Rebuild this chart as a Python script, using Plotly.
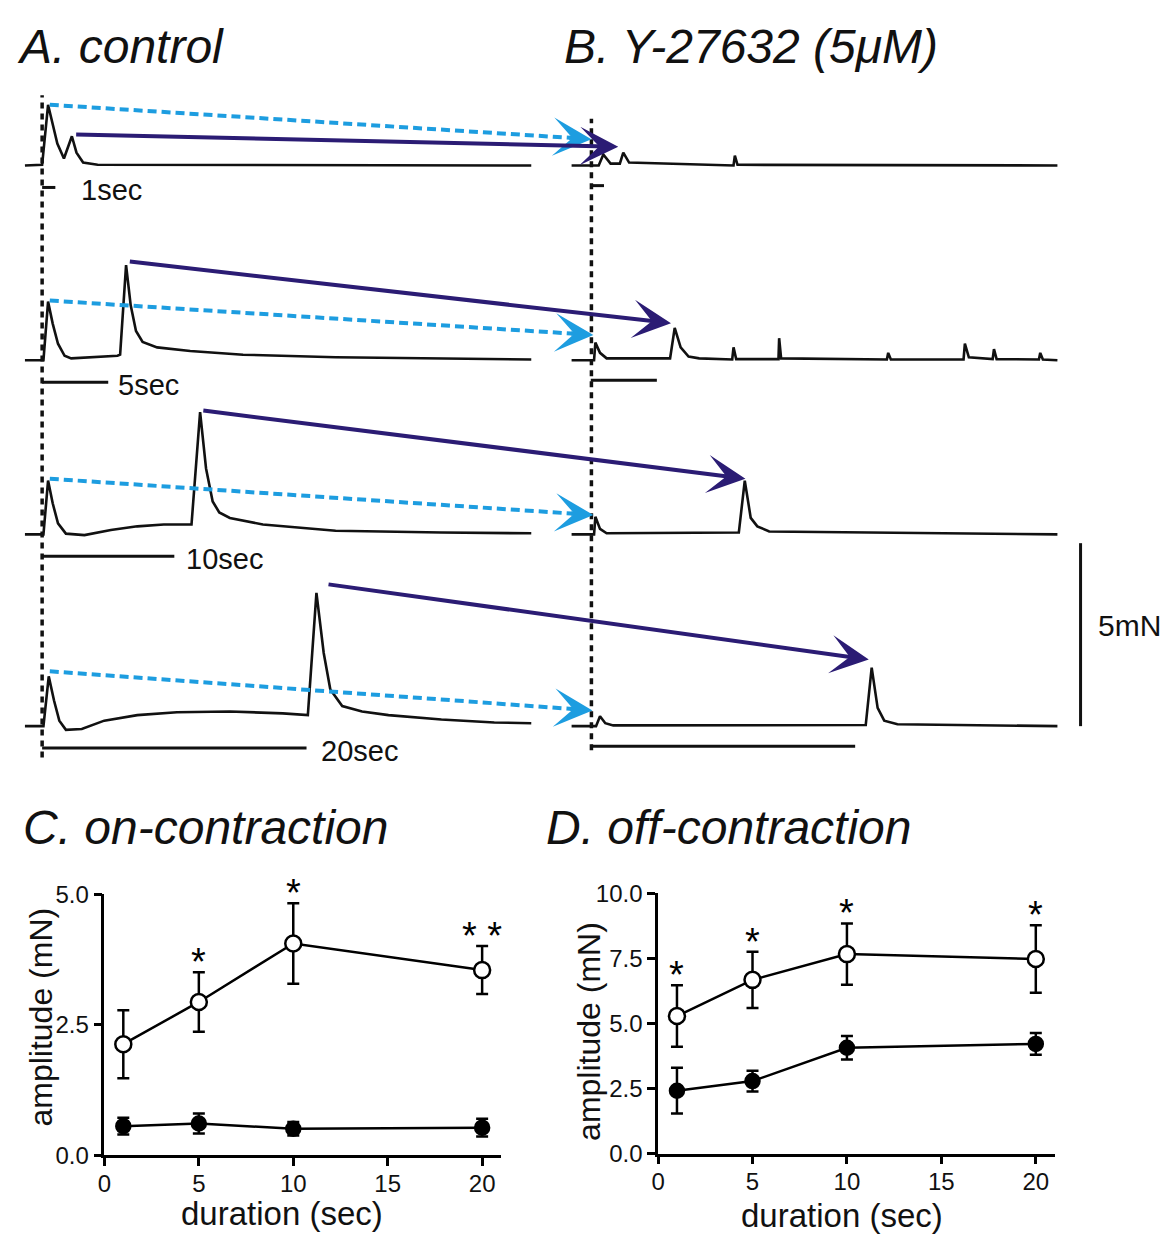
import plotly.graph_objects as go

FIG_W, FIG_H = 1169, 1243
FONT = "Liberation Sans, Arial, Helvetica, sans-serif"
NAVY = "#2B1C74"
SKY = "#1D9DE0"

# ---------------------------------------------------------------------------
# Force recordings: time (s) from stimulus onset, force (mN) above baseline
# ---------------------------------------------------------------------------
ctrl_1s_t = [-1.5, -0.2, 0.25, 0.6, 0.95, 1.45, 2.05, 2.4, 2.9, 4.0, 36.8]
ctrl_1s_f = [0.0, 0.02, 1.66, 1.15, 0.6, 0.19, 0.8, 0.35, 0.08, 0.02, 0.0]
y27_1s_t = [-1.65, 0.4, 0.75, 1.3, 2.0, 2.26, 2.7, 10.6, 10.7, 10.9, 35.1]
y27_1s_f = [0.0, 0.0, 0.3, 0.05, 0.05, 0.35, 0.08, 0.0, 0.27, 0.02, 0.0]

ctrl_5s_t = [-1.5, -0.1, 0.25, 0.6, 1.0, 1.5, 2.0, 4.0, 5.5, 5.7, 6.15, 6.5,
             6.9, 7.4, 8.5, 11.0, 15.0, 22.0, 30.0, 36.8]
ctrl_5s_f = [0.0, 0.0, 1.6, 1.0, 0.45, 0.12, 0.05, 0.08, 0.12, 0.15, 2.6, 1.5,
             0.8, 0.5, 0.35, 0.25, 0.15, 0.08, 0.04, 0.02]
y27_5s_t = [-1.65, 0.05, 0.15, 0.5, 1.0, 5.8, 6.15, 6.6, 7.2, 8.0, 10.5, 10.6,
            10.8, 14.0, 14.05, 14.2, 22.2, 22.3, 22.5, 28.0, 28.1, 28.4, 30.2,
            30.3, 30.5, 33.7, 33.8, 34.0, 35.1]
y27_5s_f = [0.0, 0.0, 0.48, 0.2, 0.05, 0.05, 0.88, 0.35, 0.1, 0.05, 0.02, 0.35,
            0.03, 0.03, 0.6, 0.05, 0.02, 0.2, 0.02, 0.02, 0.45, 0.08, 0.03,
            0.3, 0.03, 0.02, 0.2, 0.02, 0.0]

ctrl_10s_t = [-1.5, -0.1, 0.25, 0.6, 1.0, 1.6, 3.0, 5.0, 7.0, 9.0, 11.1, 11.75,
              12.2, 12.7, 13.2, 14.0, 16.5, 22.0, 30.0, 36.8]
ctrl_10s_f = [0.0, 0.0, 1.47, 0.85, 0.3, 0.02, -0.02, 0.12, 0.22, 0.27, 0.27,
              3.34, 1.8, 0.9, 0.6, 0.45, 0.27, 0.1, 0.05, 0.03]
y27_10s_t = [-1.65, 0.05, 0.15, 0.5, 1.0, 11.0, 11.45, 11.9, 12.4, 13.3, 35.1]
y27_10s_f = [0.0, 0.0, 0.48, 0.15, 0.03, 0.05, 1.47, 0.45, 0.22, 0.08, 0.0]

ctrl_20s_t = [-1.5, -0.1, 0.3, 0.7, 1.1, 1.6, 2.8, 4.5, 7.0, 10.0, 14.0, 18.0,
              19.9, 20.55, 21.1, 21.6, 22.5, 24.0, 26.0, 30.0, 34.0, 36.8]
ctrl_20s_f = [0.0, 0.0, 1.36, 0.7, 0.15, -0.1, -0.08, 0.15, 0.3, 0.38, 0.4,
              0.35, 0.3, 3.64, 2.0, 1.0, 0.55, 0.4, 0.3, 0.18, 0.1, 0.08]
y27_20s_t = [-1.65, 0.2, 0.5, 0.9, 1.5, 20.6, 21.05, 21.5, 22.0, 23.0, 35.1]
y27_20s_f = [0.0, 0.0, 0.27, 0.08, 0.02, 0.03, 1.6, 0.5, 0.15, 0.05, 0.0]

stim_durations = [1, 5, 10, 20]
stim_labels = ["1sec", "5sec", "10sec", "20sec"]

# arrows linking control contractions to the Y-27632 ones (s, mN per row)
on_arrow_ctrl_t = [0.38, 0.38, 0.38, 0.38]
on_arrow_ctrl_f = [1.66, 1.63, 1.52, 1.50]
on_arrow_y27_t = [-0.15, 0.0, 0.0, -0.07]
on_arrow_y27_f = [0.72, 0.69, 0.53, 0.43]
off_arrow_ctrl_t = [2.26, 6.32, 11.88, 21.35]
off_arrow_ctrl_f = [0.85, 2.70, 3.39, 3.88]
off_arrow_y27_t = [1.88, 5.87, 11.5, 20.83]
off_arrow_y27_f = [0.51, 1.01, 1.52, 1.82]

force_scale_mN = 5

# ---------------------------------------------------------------------------
# Summary data: amplitude (mN) vs stimulus duration (s), mean and SEM
# ---------------------------------------------------------------------------
durations = [1, 5, 10, 20]
on_ctrl_mean = [2.13, 2.94, 4.06, 3.55]
on_ctrl_sem = [0.65, 0.57, 0.77, 0.46]
on_y27_mean = [0.56, 0.61, 0.51, 0.53]
on_y27_sem = [0.16, 0.19, 0.13, 0.17]
on_stars = ["", "*", "*", "* *"]

off_ctrl_mean = [5.29, 6.68, 7.67, 7.48]
off_ctrl_sem = [1.18, 1.08, 1.18, 1.30]
off_y27_mean = [2.42, 2.79, 4.07, 4.22]
off_y27_sem = [0.88, 0.40, 0.45, 0.42]
off_stars = ["*", "*", "*", "*"]

# ---------------------------------------------------------------------------
# Layout of the stacked recordings on one shared time / force axis
# ---------------------------------------------------------------------------
ROW_BASE = [16.98, 11.66, 6.90, 1.66]     # mN position of each row baseline
Y27_SHIFT = 41.5                          # s offset of panel B on time axis
TOP_X_RANGE = [-2.857, 85.04]
TOP_Y_RANGE = [0.0, 21.12]
TOP_DOMAIN = [0.3644, 1.0]
BAR_DROP = 0.6                            # time bar distance below baseline
MARK_T = -0.2                             # dotted stimulus-onset line
FORCE_BAR_T = 78.35
LABEL_GAP_PX = [24, 8, 10, 12]
Y27_TIME_BAR = [True, True, False, True]

ctrl_t = [ctrl_1s_t, ctrl_5s_t, ctrl_10s_t, ctrl_20s_t]
ctrl_f = [ctrl_1s_f, ctrl_5s_f, ctrl_10s_f, ctrl_20s_f]
y27_t = [y27_1s_t, y27_5s_t, y27_10s_t, y27_20s_t]
y27_f = [y27_1s_f, y27_5s_f, y27_10s_f, y27_20s_f]

fig = go.Figure()
shapes = []
annotations = []

trace_line = dict(color="#111111", width=2.6)
for r in range(4):
    base = ROW_BASE[r]
    fig.add_trace(go.Scatter(
        x=ctrl_t[r], y=[base + v for v in ctrl_f[r]], mode="lines",
        line=trace_line, xaxis="x", yaxis="y", showlegend=False,
        hoverinfo="skip"))
    fig.add_trace(go.Scatter(
        x=[Y27_SHIFT + v for v in y27_t[r]], y=[base + v for v in y27_f[r]],
        mode="lines", line=trace_line, xaxis="x", yaxis="y",
        showlegend=False, hoverinfo="skip"))

    # stimulus time bars
    bar_y = base - BAR_DROP
    dur = stim_durations[r]
    shapes.append(dict(type="line", xref="x", yref="y", x0=MARK_T,
                       x1=MARK_T + dur, y0=bar_y, y1=bar_y,
                       line=dict(color="#111111", width=3)))
    annotations.append(dict(xref="x", yref="y", x=MARK_T + dur, y=bar_y,
                            text=stim_labels[r], showarrow=False,
                            xanchor="left", yanchor="middle",
                            xshift=LABEL_GAP_PX[r], yshift=-3,
                            font=dict(family=FONT, size=29, color="#111111")))
    if Y27_TIME_BAR[r]:
        shapes.append(dict(type="line", xref="x", yref="y",
                           x0=Y27_SHIFT + MARK_T, x1=Y27_SHIFT + MARK_T + dur,
                           y0=bar_y + 0.05, y1=bar_y + 0.05,
                           line=dict(color="#111111", width=3)))

    # on-contraction arrow (dashed, sky blue)
    x0, y0 = on_arrow_ctrl_t[r], base + on_arrow_ctrl_f[r]
    x1, y1 = Y27_SHIFT + on_arrow_y27_t[r], base + on_arrow_y27_f[r]
    span = x1 - x0
    k_body = (span - 1.0) / span
    k_tail = (span - 1.8) / span
    fig.add_trace(go.Scatter(
        x=[x0, x0 + k_body * span], y=[y0, y0 + k_body * (y1 - y0)],
        mode="lines", line=dict(color=SKY, width=4, dash="9px,5px"),
        xaxis="x", yaxis="y", showlegend=False, hoverinfo="skip"))
    annotations.append(dict(xref="x", yref="y", axref="x", ayref="y",
                            x=x1, y=y1, ax=x0 + k_tail * span,
                            ay=y0 + k_tail * (y1 - y0), text="",
                            showarrow=True, arrowhead=3, arrowsize=1.6,
                            arrowwidth=4, arrowcolor=SKY, standoff=0))

    # off-contraction arrow (solid, navy)
    annotations.append(dict(xref="x", yref="y", axref="x", ayref="y",
                            x=Y27_SHIFT + off_arrow_y27_t[r],
                            y=base + off_arrow_y27_f[r],
                            ax=off_arrow_ctrl_t[r],
                            ay=base + off_arrow_ctrl_f[r], text="",
                            showarrow=True, arrowhead=3, arrowsize=1.6,
                            arrowwidth=4, arrowcolor=NAVY, standoff=0))

# dotted stimulus-onset markers
dot_line = dict(color="#111111", width=3.5, dash="6px,5px")
shapes.append(dict(type="line", xref="x", yref="y", x0=MARK_T, x1=MARK_T,
                   y0=0.8, y1=18.9, line=dot_line))
shapes.append(dict(type="line", xref="x", yref="y", x0=Y27_SHIFT + MARK_T + 0.05,
                   x1=Y27_SHIFT + MARK_T + 0.05, y0=1.0, y1=18.26,
                   line=dot_line))

# force scale bar
shapes.append(dict(type="line", xref="x", yref="y", x0=FORCE_BAR_T,
                   x1=FORCE_BAR_T, y0=ROW_BASE[3],
                   y1=ROW_BASE[3] + force_scale_mN,
                   line=dict(color="#111111", width=3)))
annotations.append(dict(xref="x", yref="y", x=FORCE_BAR_T,
                        y=ROW_BASE[3] + force_scale_mN / 2,
                        text=f"{force_scale_mN}mN", showarrow=False,
                        xanchor="left", yanchor="middle", xshift=15,
                        yshift=9,
                        font=dict(family=FONT, size=30, color="#111111")))

# ---------------------------------------------------------------------------
# Summary panels C and D
# ---------------------------------------------------------------------------
def summary(xa, ya, means, sems, filled):
    return go.Scatter(
        x=durations, y=means, xaxis=xa, yaxis=ya, mode="lines+markers",
        line=dict(color="black", width=2.5),
        marker=dict(symbol="circle", size=14 if filled else 16,
                    color="black" if filled else "white",
                    line=dict(color="black", width=2.5)),
        error_y=dict(type="data", array=sems, visible=True, color="black",
                     thickness=2.5, width=6),
        cliponaxis=False, showlegend=False, hoverinfo="skip")


fig.add_trace(summary("x2", "y2", on_y27_mean, on_y27_sem, True))
fig.add_trace(summary("x2", "y2", on_ctrl_mean, on_ctrl_sem, False))
fig.add_trace(summary("x3", "y3", off_y27_mean, off_y27_sem, True))
fig.add_trace(summary("x3", "y3", off_ctrl_mean, off_ctrl_sem, False))

for stars, means, sems, xr, yr in [
        (on_stars, on_ctrl_mean, on_ctrl_sem, "x2", "y2"),
        (off_stars, off_ctrl_mean, off_ctrl_sem, "x3", "y3")]:
    for d, s, m, e in zip(durations, stars, means, sems):
        if s:
            annotations.append(dict(xref=xr, yref=yr, x=d, y=m + e, text=s,
                                    showarrow=False, xanchor="center",
                                    yanchor="middle", yshift=10,
                                    font=dict(family=FONT, size=38,
                                              color="black")))


def paper_text(px, py, text, size, anchor="left", angle=0):
    return dict(xref="paper", yref="paper", x=px / FIG_W, y=1 - py / FIG_H,
                text=text, showarrow=False, xanchor=anchor, yanchor="middle",
                textangle=angle,
                font=dict(family=FONT, size=size, color="#111111"))


annotations += [
    paper_text(8, 33, "<i>A. control</i>", 48),
    paper_text(558, 33, "<i>B. Y-27632 (5μM)</i>", 48),
    paper_text(14, 832, "<i>C. on-contraction</i>", 48),
    paper_text(540, 832, "<i>D. off-contraction</i>", 48),
    paper_text(277, 1226, "duration (sec)", 33, "center"),
    paper_text(840, 1228, "duration (sec)", 33, "center"),
    paper_text(34, 1025, "amplitude (mN)", 32, "center", -90),
    paper_text(586, 1040, "amplitude (mN)", 32, "center", -90),
]

axis_style = dict(showline=True, linecolor="black", linewidth=2.5,
                  ticks="outside", ticklen=8, tickwidth=2.5, tickcolor="black",
                  showgrid=False, zeroline=False, fixedrange=True,
                  tickfont=dict(family=FONT, size=24, color="#111111"))

fig.update_layout(
    width=FIG_W, height=FIG_H,
    margin=dict(l=0, r=0, t=0, b=0),
    paper_bgcolor="white", plot_bgcolor="white",
    showlegend=False,
    xaxis=dict(domain=[0, 1], range=TOP_X_RANGE, visible=False,
               fixedrange=True, anchor="y"),
    yaxis=dict(domain=TOP_DOMAIN, range=TOP_Y_RANGE, visible=False,
               fixedrange=True, anchor="x"),
    xaxis2=dict(domain=[98 / FIG_W, 497 / FIG_W], range=[0, 21],
                tickvals=[0, 5, 10, 15, 20], anchor="y2",
                ticklabelstandoff=-3, **axis_style),
    yaxis2=dict(domain=[1 - 1166.7 / FIG_H, 1 - 900 / FIG_H], range=[0, 5],
                tickvals=[0, 2.5, 5], tickformat=".1f", anchor="x2",
                **axis_style),
    xaxis3=dict(domain=[655 / FIG_W, 1054 / FIG_W], range=[0, 21],
                tickvals=[0, 5, 10, 15, 20], anchor="y3",
                ticklabelstandoff=-3, **axis_style),
    yaxis3=dict(domain=[1 - 1165 / FIG_H, 1 - 899 / FIG_H], range=[0, 10],
                tickvals=[0, 2.5, 5, 7.5, 10], tickformat=".1f", anchor="x3",
                **axis_style),
    shapes=shapes,
    annotations=annotations,
)

fig.write_html("out.html")
